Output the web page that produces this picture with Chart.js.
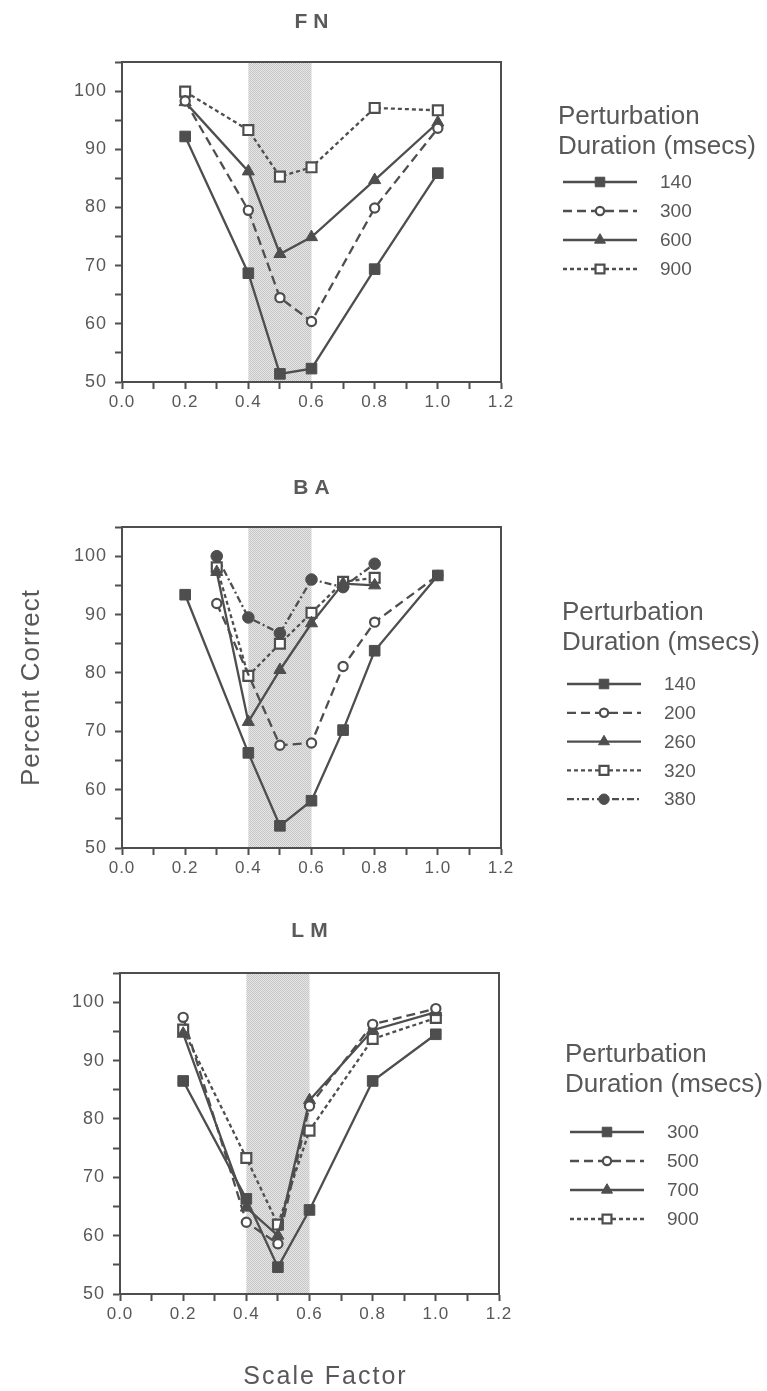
<!DOCTYPE html>
<html>
<head>
<meta charset="utf-8">
<script src="https://cdn.jsdelivr.net/npm/chart.js@4/dist/chart.umd.min.js"></script>
<style>
  body { margin: 0; background: #fff; }
  #page { position: relative; width: 767px; height: 1391px; overflow: hidden; }
  canvas { position: absolute; left: 0; }
</style>
</head>
<body>
<div id="page">
  <canvas id="fnChart" width="767" height="450" style="top:0px"></canvas>
  <canvas id="baChart" width="767" height="440" style="top:450px"></canvas>
  <canvas id="lmChart" width="767" height="501" style="top:890px"></canvas>
</div>
<script>
// ---- data ----
const shadeRange = [0.4, 0.6];
const xTicks = [0.0, 0.2, 0.4, 0.6, 0.8, 1.0, 1.2];
const yTicks = [50, 60, 70, 80, 90, 100];

// FN
const fnScale = [0.2, 0.4, 0.5, 0.6, 0.8, 1.0];
const fn140 = [92.2, 68.7, 51.4, 52.3, 69.4, 85.9];
const fn300 = [98.3, 79.5, 64.5, 60.4, 79.9, 93.6];
const fn600 = [98.1, 86.2, 72.0, 74.9, 84.7, 94.6];
const fn900 = [99.9, 93.3, 85.3, 86.9, 97.1, 96.7];

// BA
const ba140Scale = [0.2, 0.4, 0.5, 0.6, 0.7, 0.8, 1.0];
const ba140 = [93.4, 66.3, 53.8, 58.1, 70.2, 83.8, 96.7];
const ba200Scale = [0.3, 0.5, 0.6, 0.7, 0.8, 1.0];
const ba200 = [91.9, 67.6, 68.0, 81.1, 88.7, 96.7];
const baScale = [0.3, 0.4, 0.5, 0.6, 0.7, 0.8];
const ba260 = [97.3, 71.6, 80.5, 88.5, 95.3, 95.0];
const ba320 = [98.1, 79.5, 85.0, 90.3, 95.6, 96.3];
const ba380 = [100.0, 89.5, 86.8, 96.0, 94.7, 98.7];

// LM
const lmScale = [0.2, 0.4, 0.5, 0.6, 0.8, 1.0];
const lm300 = [86.5, 66.3, 54.6, 64.4, 86.5, 94.5];
const lm500 = [97.4, 62.3, 58.6, 82.2, 96.2, 98.9];
const lm700 = [94.6, 64.8, 60.0, 83.2, 95.2, 98.3];
const lm900 = [95.3, 73.3, 61.9, 78.0, 93.7, 97.3];

const ink = '#4e4e4e';
const textInk = '#585858';
const font = 'Arial, "Liberation Sans", sans-serif';

// marker / line styles
const solidSquare = { borderDash: [], pointStyle: 'rect', pointRadius: 7.5, pointBackgroundColor: ink, pointBorderWidth: 1 };
const dashCircle = { borderDash: [9, 5], pointStyle: 'circle', pointRadius: 4.6, pointBackgroundColor: '#fff', pointBorderWidth: 2.2 };
const solidTriangle = { borderDash: [], pointStyle: 'triangle', pointRadius: 7, pointBackgroundColor: ink, pointBorderWidth: 1 };
const dotSquare = { borderDash: [4, 3], pointStyle: 'rect', pointRadius: 7, pointBackgroundColor: '#fff', pointBorderWidth: 2.2 };
const dashDotCircle = { borderDash: [7, 3, 2, 3], pointStyle: 'circle', pointRadius: 5.8, pointBackgroundColor: ink, pointBorderWidth: 1 };

function series(label, xs, ys, style) {
  return Object.assign({
    label: label,
    data: xs.map((x, i) => ({ x: x, y: ys[i] })),
    showLine: true,
    borderColor: ink,
    borderWidth: 2.3,
    pointBorderColor: ink,
    pointHoverRadius: 0,
    tension: 0,
    fill: false
  }, style);
}

let stipple = null;
function getStipple(ctx) {
  if (stipple) return stipple;
  const c = document.createElement('canvas');
  c.width = 2; c.height = 2;
  const p = c.getContext('2d');
  p.fillStyle = '#e6e6e6'; p.fillRect(0, 0, 2, 2);
  p.fillStyle = '#c6c6c6'; p.fillRect(0, 0, 1, 1); p.fillRect(1, 1, 1, 1);
  stipple = ctx.createPattern(c, 'repeat');
  return stipple;
}

function drawMarker(ctx, ds, x, y) {
  ctx.fillStyle = ds.pointBackgroundColor;
  ctx.strokeStyle = ds.pointBorderColor;
  ctx.lineWidth = ds.pointBorderWidth;
  ctx.setLineDash([]);
  Chart.helpers.drawPoint(ctx, {
    pointStyle: ds.pointStyle, radius: ds.pointRadius * 0.9, rotation: 0, borderWidth: ds.pointBorderWidth
  }, x, y);
}

const panelDecor = {
  id: 'panelDecor',
  beforeDraw(chart) {
    // tick labels in the figure are slightly spaced out
    chart.ctx.letterSpacing = '1px';
  },
  beforeDatasetsDraw(chart) {
    const { ctx, chartArea, scales } = chart;
    ctx.letterSpacing = '0px';
    ctx.save();
    const x0 = scales.x.getPixelForValue(shadeRange[0]);
    const x1 = scales.x.getPixelForValue(shadeRange[1]);
    ctx.fillStyle = getStipple(ctx);
    ctx.fillRect(x0, chartArea.top + 1, x1 - x0, chartArea.bottom - chartArea.top - 2);
    ctx.strokeStyle = ink;
    ctx.lineWidth = 2;
    ctx.strokeRect(chartArea.left, chartArea.top, chartArea.right - chartArea.left, chartArea.bottom - chartArea.top);
    ctx.restore();
  },
  afterDraw(chart, args, o) {
    const { ctx, chartArea } = chart;
    ctx.save();
    // panel title
    ctx.fillStyle = '#5a5a5a';
    ctx.font = 'bold 21px ' + font;
    ctx.textAlign = 'center';
    ctx.textBaseline = 'middle';
    ctx.letterSpacing = '6px';
    ctx.fillText(o.title, (chartArea.left + chartArea.right) / 2 + 3, o.titleY);
    ctx.letterSpacing = '0px';

    // legend
    ctx.fillStyle = textInk;
    ctx.textAlign = 'left';
    ctx.textBaseline = 'alphabetic';
    ctx.font = '26px ' + font;
    ctx.fillText('Perturbation', o.legendX, o.legendTop);
    ctx.fillText('Duration (msecs)', o.legendX, o.legendTop + 30);
    chart.data.datasets.forEach((ds, i) => {
      const y = o.legendTop + o.firstRow + i * o.rowGap;
      const lx0 = o.legendX + 5, lx1 = o.legendX + 79;
      ctx.strokeStyle = ink;
      ctx.lineWidth = 2.3;
      ctx.setLineDash(ds.borderDash);
      ctx.beginPath();
      ctx.moveTo(lx0, y);
      ctx.lineTo(lx1, y);
      ctx.stroke();
      drawMarker(ctx, ds, (lx0 + lx1) / 2, y);
      ctx.fillStyle = textInk;
      ctx.font = '19px ' + font;
      ctx.textBaseline = 'middle';
      ctx.fillText(ds.label, o.legendX + 102, y + 1);
      ctx.textBaseline = 'alphabetic';
    });

    // axis titles
    ctx.fillStyle = textInk;
    if (o.yLabel) {
      ctx.save();
      ctx.translate(o.yLabelX, (chartArea.top + chartArea.bottom) / 2);
      ctx.rotate(-Math.PI / 2);
      ctx.font = '26px ' + font;
      ctx.textAlign = 'center';
      ctx.textBaseline = 'middle';
      ctx.letterSpacing = '1px';
      ctx.fillText(o.yLabel, 0, 0);
      ctx.restore();
    }
    if (o.xLabel) {
      ctx.font = '25px ' + font;
      ctx.textAlign = 'center';
      ctx.textBaseline = 'middle';
      ctx.letterSpacing = '2px';
      ctx.fillText(o.xLabel, (chartArea.left + chartArea.right) / 2 + 16, o.xLabelY);
      ctx.letterSpacing = '0px';
    }
    ctx.restore();
  }
};

function makeScales() {
  return {
    x: {
      type: 'linear', min: 0, max: 1.2,
      afterFit: (s) => { s.height = 40; },
      afterBuildTicks: (s) => { s.ticks = [0, 0.1, 0.2, 0.3, 0.4, 0.5, 0.6, 0.7, 0.8, 0.9, 1.0, 1.1, 1.2].map(v => ({ value: v })); },
      ticks: {
        autoSkip: false, maxRotation: 0, color: textInk, padding: 3,
        font: { family: font, size: 17 },
        callback: (v) => {
          const hit = xTicks.find(t => Math.abs(t - v) < 1e-6);
          return hit === undefined ? '' : hit.toFixed(1);
        }
      },
      grid: { drawOnChartArea: false, drawTicks: true, tickLength: 7, tickColor: ink, tickWidth: 2, color: ink },
      border: { display: true, color: ink, width: 2 }
    },
    y: {
      type: 'linear', min: 50, max: 105,
      afterFit: (s) => { s.width = 62; },
      ticks: {
        stepSize: 5, autoSkip: false, color: textInk, padding: 8,
        font: { family: font, size: 18 },
        callback: (v) => yTicks.includes(v) ? String(v) : ''
      },
      grid: { drawOnChartArea: false, drawTicks: true, tickLength: 7, tickColor: ink, tickWidth: 2, color: ink },
      border: { display: true, color: ink, width: 2 }
    }
  };
}

function makeChart(id, datasets, padding, decor) {
  return new Chart(document.getElementById(id), {
    type: 'scatter',
    data: { datasets: datasets },
    options: {
      responsive: false,
      animation: false,
      devicePixelRatio: 1,
      layout: { padding: padding },
      scales: makeScales(),
      plugins: {
        legend: { display: false },
        tooltip: { enabled: false },
        panelDecor: decor
      }
    },
    plugins: [panelDecor]
  });
}

const fnChart = makeChart('fnChart', [
  series('140', fnScale, fn140, solidSquare),
  series('300', fnScale, fn300, dashCircle),
  series('600', fnScale, fn600, solidTriangle),
  series('900', fnScale, fn900, dotSquare)
], { top: 62, bottom: 28, left: 60, right: 266 },
{ title: 'FN', titleY: 22, legendX: 558, legendTop: 124, firstRow: 58, rowGap: 29 });

const baChart = makeChart('baChart', [
  series('140', ba140Scale, ba140, solidSquare),
  series('200', ba200Scale, ba200, dashCircle),
  series('260', baScale, ba260, solidTriangle),
  series('320', baScale, ba320, dotSquare),
  series('380', baScale, ba380, dashDotCircle)
], { top: 77, bottom: 2, left: 60, right: 266 },
{ title: 'BA', titleY: 38, legendX: 562, legendTop: 170, firstRow: 64, rowGap: 28.8,
  yLabel: 'Percent Correct', yLabelX: 32 });

const lmChart = makeChart('lmChart', [
  series('300', lmScale, lm300, solidSquare),
  series('500', lmScale, lm500, dashCircle),
  series('700', lmScale, lm700, solidTriangle),
  series('900', lmScale, lm900, dotSquare)
], { top: 83, bottom: 57, left: 58, right: 268 },
{ title: 'LM', titleY: 41, legendX: 565, legendTop: 172, firstRow: 70, rowGap: 29,
  xLabel: 'Scale Factor', xLabelY: 487 });
</script>
</body>
</html>
